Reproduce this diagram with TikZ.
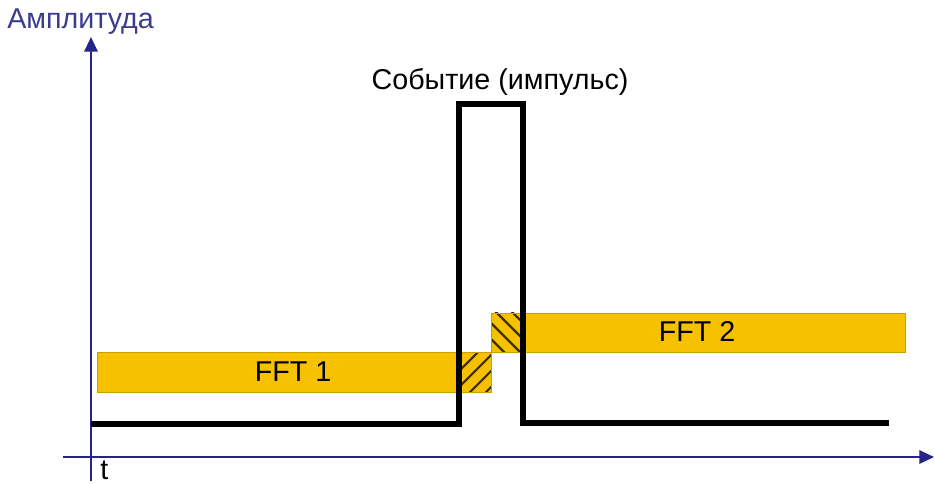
\documentclass[tikz,border=0pt]{standalone}
\usepackage{fontspec}
\setmainfont{Liberation Sans}
\usetikzlibrary{arrows.meta}
\definecolor{axisblue}{HTML}{23238A}
\definecolor{labelblue}{HTML}{3C3C8C}
\definecolor{fftyellow}{HTML}{F6C200}
\definecolor{fftedge}{HTML}{C9A000}
\tikzset{
  axisline/.style={draw=axisblue, line width=1.6pt, -{Triangle[length=11pt,width=10pt]}},
  signal/.style={draw=black, line width=4.2pt, line join=miter},
  fftbar/.style={fill=fftyellow, draw=fftedge, line width=0.5pt},
  hatchline/.style={draw=black!75!fftyellow, line width=1.6pt},
  lbl/.style={inner sep=0pt, font=\fontsize{21.5}{24}\selectfont},
}
\begin{document}
\begin{tikzpicture}[x=0.75pt, y=-0.75pt]
\useasboundingbox (0,0) rectangle (934,484);
% bars
\node[fftbar, minimum width=394*0.75pt, minimum height=40*0.75pt, inner sep=0pt, anchor=north west] (fft1) at (97,352) {};
\node[fftbar, minimum width=414*0.75pt, minimum height=39*0.75pt, inner sep=0pt, anchor=north west] (fft2) at (491,313) {};
\node[lbl] (l1) at (293,372) {FFT 1};
\node[lbl] (l2) at (697,331) {FFT 2};
% hatch areas
\begin{scope}
\clip (459,352) rectangle (491,392);
\foreach \i in {-64,-48,...,64} {
  \draw[hatchline] (462+\i,400) -- (462+\i+50,350);
}
\end{scope}
\begin{scope}
\clip (491,313) rectangle (523,352);
\foreach \i in {-64,-48,...,64} {
  \draw[hatchline] (494+\i,310) -- (494+\i+50,360);
}
\end{scope}
\draw[draw=fftedge, line width=0.5pt] (459,352) rectangle (491,392);
\draw[draw=fftedge, line width=0.5pt] (491,313) rectangle (523,352);
% axes
\coordinate (ybot) at (91,481);
\coordinate (ytop) at (91,37);
\coordinate (xleft) at (63,457);
\coordinate (xright) at (934,457);
\draw[axisline] (ybot) -- (ytop);
\draw[axisline] (xleft) -- (xright);
\node[lbl, text=labelblue, anchor=west] (ylab) at (7,22) {Амплитуда};
\node[lbl, anchor=west] (tlab) at (100,470) {t};
% signal
\coordinate (s0) at (91,424);
\coordinate (s1) at (459,424);
\coordinate (s2) at (459,104);
\coordinate (s3) at (523,104);
\coordinate (s4) at (523,423);
\coordinate (s5) at (889,423);
\draw[signal] (s0) -- (s1) -- (s2) -- (s3) -- (s4) -- (s5);
\node[lbl] (ev) at (500,82) {Событие (импульс)};
\end{tikzpicture}
\end{document}
